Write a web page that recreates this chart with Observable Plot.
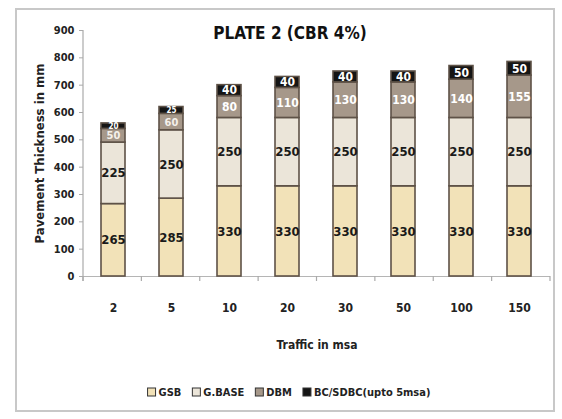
<!DOCTYPE html>
<html><head><meta charset="utf-8">
<script src="https://cdn.jsdelivr.net/npm/d3@7"></script>
<script src="https://cdn.jsdelivr.net/npm/@observablehq/plot@0.6"></script>
<style>body{margin:0;background:#fff} svg text{font-stretch:condensed}</style>
</head><body><div id="chart"></div>
<script>
const categories = ["2","5","10","20","30","50","100","150"];
const layers = ["GSB","G.BASE","DBM","BC/SDBC(upto 5msa)"];
const gsb   = [265,285,330,330,330,330,330,330];
const gbase = [225,250,250,250,250,250,250,250];
const dbm   = [50,60,80,110,130,130,140,155];
const bc    = [20,25,40,40,40,40,50,50];
const yTicks = [0,100,200,300,400,500,600,700,800,900];
const title = "PLATE 2 (CBR 4%)";
const yTitle = "Pavement Thickness in mm";
const xTitle = "Traffic in msa";

const fills = ["#f2e2b8","#ebe5d9","#a6988a","#151515"];
const series = [gsb,gbase,dbm,bc];
const data = [];
categories.forEach((c,i)=>{
  let base = 0;
  series.forEach((s,j)=>{
    data.push({traffic:c, layer:layers[j], li:j, value:s[i], mid: base + s[i]/2});
    base += s[i];
  });
});
const F = '"DejaVu Sans Condensed","DejaVu Sans",sans-serif';
const small = d => d.value < 30;
const cramped = d => d.li === 2 && d.value < 70;

const plot = Plot.plot({
  width:562, height:419,
  marginLeft:83, marginRight:12, marginTop:30, marginBottom:143,
  style:{fontFamily:F, background:"#fff", overflow:"visible"},
  x:{domain:categories, paddingInner:0.58, paddingOuter:0.29, label:null},
  y:{domain:[0,900], label:null},
  color:{domain:layers, range:fills},
  marks:[
    Plot.ruleY([0], {stroke:"#b5b5b5", strokeWidth:1.2}),
    Plot.barY(data, Plot.stackY({x:"traffic", y:"value", fill:"layer", z:"layer", order:layers, stroke:"#5e5247", strokeWidth:1.6})),
    Plot.text(data.filter(d=>d.li<2), {x:"traffic", y:"mid", text:d=>String(d.value), fill:"#1a1a1a", fontWeight:"bold", fontSize:13}),
    Plot.text(data.filter(d=>d.li>=2 && !small(d) && !cramped(d)), {x:"traffic", y:"mid", text:d=>String(d.value), fill:"#ffffff", fontWeight:"bold", fontSize:12}),
    Plot.text(data.filter(cramped), {x:"traffic", y:"mid", text:d=>String(d.value), fill:"#f4f0ea", fontWeight:"bold", fontSize:11}),
    Plot.text(data.filter(small), {x:"traffic", y:"mid", text:d=>String(d.value), fill:"#ffffff", fontWeight:"bold", fontSize:8}),
    Plot.axisY({ticks:yTicks, tickSize:4, tickPadding:5, tickFormat:d=>String(d), fontSize:11, fontWeight:"bold", fill:"#222", stroke:"#aaa"}),
    Plot.axisX({tickSize:0, tickPadding:27, fontSize:12, fontWeight:"bold", fill:"#222"}),
    Plot.text([title], {frameAnchor:"top", dy:-4, text:d=>d, fontSize:17, fontWeight:"bold", fill:"#111", dx:-27}),
    Plot.text([xTitle], {frameAnchor:"bottom", dy:72, text:d=>d, fontSize:12, fontWeight:"bold", fill:"#222"}),
    Plot.text([yTitle], {frameAnchor:"left", textAnchor:"middle", dx:-44, rotate:-90, text:d=>d, fontSize:13, fontWeight:"bold", fill:"#222"})
  ]
});
document.getElementById("chart").appendChild(plot);

const svg = d3.select(plot);
const xs = plot.scale("x"), ys = plot.scale("y");
const x0 = xs.range[0], x1 = xs.range[1];
const yBottom = ys.range[0], yTop = ys.range[1];
// y axis line
svg.append("line").attr("x1",x0).attr("x2",x0).attr("y1",yTop).attr("y2",yBottom+5)
  .attr("stroke","#aaa").attr("stroke-width",1.2);
// x tick marks at category boundaries
d3.range(categories.length+1).forEach(i=>{
  const x = x0 + i*(x1-x0)/categories.length;
  svg.append("line").attr("x1",x).attr("x2",x).attr("y1",yBottom).attr("y2",yBottom+5)
    .attr("stroke","#aaa").attr("stroke-width",1.2);
});
// outer border
svg.insert("rect", ":first-child").attr("x",16).attr("y",9).attr("width",538).attr("height",402)
  .attr("fill","#fff").attr("stroke","#c8c8c8").attr("stroke-width",2);
// legend
const lg = svg.append("g").attr("font-family",F).attr("font-size",11).attr("font-weight","bold").attr("text-anchor","start");
const items = [];
layers.forEach((l,j)=>{
  const g = lg.append("g");
  g.append("rect").attr("x",0).attr("y",-4).attr("width",8).attr("height",8)
    .attr("fill",fills[j]).attr("stroke","#333").attr("stroke-width",1);
  const t = g.append("text").attr("x",11).attr("y",0).attr("dy","0.35em").attr("text-anchor","start").attr("fill","#222").text(l);
  items.push({g, w: 11 + t.node().getComputedTextLength()});
});
const gap = 11;
const total = d3.sum(items, d=>d.w) + gap*(items.length-1);
let cx = 289 - total/2;
items.forEach(it=>{ it.g.attr("transform",`translate(${cx},392)`); cx += it.w + gap; });
</script></body></html>
